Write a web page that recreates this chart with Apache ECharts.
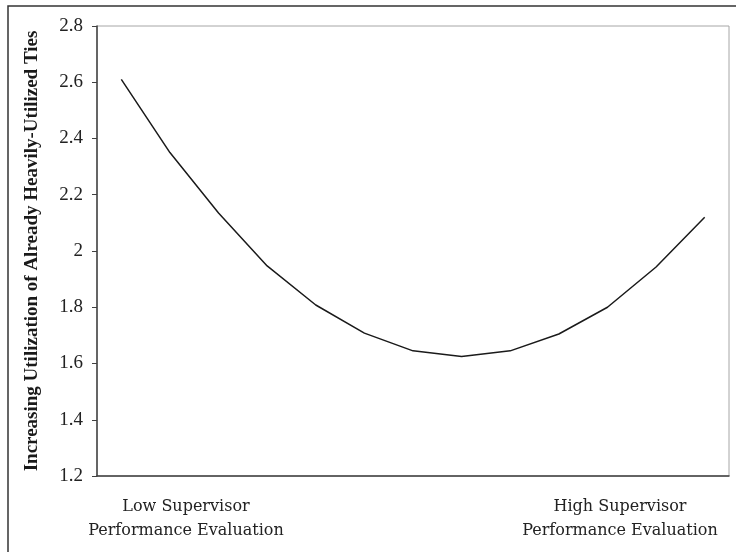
<!DOCTYPE html>
<html><head><meta charset="utf-8">
<script src="https://cdn.jsdelivr.net/npm/echarts@6/dist/echarts.min.js"></script>
<style>html,body{margin:0;padding:0;background:#fff}#c{width:736px;height:552px}</style>
</head><body><div id="c"></div>
<script>
var categories = ['1','2','3','4','5','6','7','8','9','10','11','12','13'];
var values = [2.61, 2.35, 2.135, 1.947, 1.808, 1.708, 1.645, 1.625, 1.645, 1.705, 1.80, 1.943, 2.12];
var yTicks = {min: 1.2, max: 2.8, interval: 0.2};
var yTitle = 'Increasing Utilization of Already Heavily-Utilized Ties';
var lowLabel = ['Low Supervisor', 'Performance Evaluation'];
var highLabel = ['High Supervisor', 'Performance Evaluation'];

var chart = echarts.init(document.getElementById('c'));
var serif = '"Liberation Serif", "DejaVu Serif", serif';
function lbl(t, x, y) {
  return {type: 'text', x: x, y: y, style: {text: t, fontFamily: '"DejaVu Serif", serif', fontSize: 16, fill: '#222', align: 'center', textAlign: 'center'}};
}
chart.setOption({
  animation: false,
  grid: {left: 97, top: 26, right: 7, bottom: 76, show: true, borderColor: '#a6a6a6', borderWidth: 1},
  xAxis: {
    type: 'category', data: categories, boundaryGap: true,
    axisLine: {lineStyle: {color: '#404040', width: 1.5}},
    axisTick: {show: false}, axisLabel: {show: false}
  },
  yAxis: {
    type: 'value', min: yTicks.min, max: yTicks.max, interval: yTicks.interval,
    name: yTitle, nameLocation: 'middle', nameGap: 55,
    nameTextStyle: {fontFamily: serif, fontWeight: 'bold', fontSize: 19, color: '#1a1a1a'},
    axisLine: {show: true, lineStyle: {color: '#404040', width: 1.5}},
    axisTick: {show: true, length: 5, lineStyle: {color: '#404040'}},
    splitLine: {show: false},
    axisLabel: {fontFamily: serif, fontSize: 19, color: '#222', margin: 14}
  },
  series: [{
    type: 'line', data: values, symbol: 'none',
    lineStyle: {color: '#1a1a1a', width: 1.5}
  }],
  graphic: [
    {type: 'rect', shape: {x: 8, y: 6, width: 740, height: 560}, style: {fill: 'none', stroke: '#333', lineWidth: 1.5}, silent: true},
    lbl(lowLabel[0], 186, 499),
    lbl(lowLabel[1], 186, 523),
    lbl(highLabel[0], 620, 499),
    lbl(highLabel[1], 620, 523)
  ]
});
</script></body></html>
